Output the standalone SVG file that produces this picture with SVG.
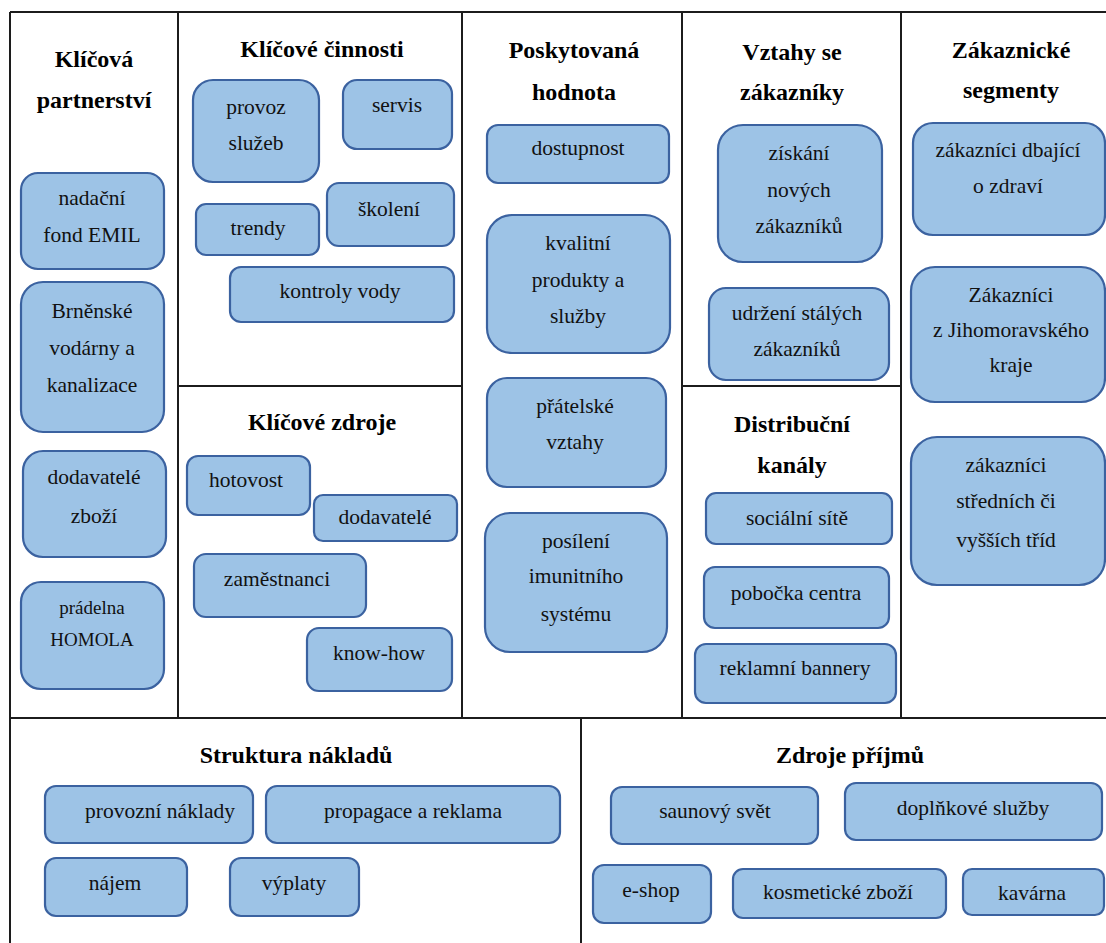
<svg xmlns="http://www.w3.org/2000/svg" width="1106" height="943" viewBox="0 0 1106 943">
<style>
.frame{stroke:#1c1c1c;stroke-width:2;fill:none}
.box{fill:#9dc3e6;stroke:#3b62a0;stroke-width:2.2}
text{font-family:'Liberation Serif','Tinos','Times New Roman','DejaVu Serif',serif}
.h{font-weight:bold;font-size:24px;fill:#000;text-anchor:middle}
.t{font-size:21.5px;fill:#111;text-anchor:middle}
.s{font-size:19px}
</style>
<rect width="1106" height="943" fill="#fff"/>
<g id="frame" class="frame">
<line x1="10" y1="12" x2="1106" y2="12"/>
<line x1="10" y1="12" x2="10" y2="943"/>
<line x1="178" y1="12" x2="178" y2="718"/>
<line x1="462" y1="12" x2="462" y2="718"/>
<line x1="682" y1="12" x2="682" y2="718"/>
<line x1="901" y1="12" x2="901" y2="718"/>
<line x1="178" y1="386" x2="462" y2="386"/>
<line x1="682" y1="386" x2="901" y2="386"/>
<line x1="10" y1="718" x2="1106" y2="718"/>
<line x1="581" y1="718" x2="581" y2="943"/>
</g>
<g id="connectors"/>
<g id="headings" font-family="Liberation Serif, DejaVu Serif, serif">
<g id="h-partnerstvi"><text class="h" x="94" y="67">Klíčová</text><text class="h" x="94" y="108">partnerství</text></g>
<g id="h-cinnosti"><text class="h" x="322" y="57">Klíčové činnosti</text></g>
<g id="h-hodnota"><text class="h" x="574" y="58">Poskytovaná</text><text class="h" x="574" y="100">hodnota</text></g>
<g id="h-vztahy"><text class="h" x="792" y="60">Vztahy se</text><text class="h" x="792" y="100">zákazníky</text></g>
<g id="h-segmenty"><text class="h" x="1011" y="58">Zákaznické</text><text class="h" x="1011" y="98">segmenty</text></g>
<g id="h-zdroje"><text class="h" x="322" y="430">Klíčové zdroje</text></g>
<g id="h-kanaly"><text class="h" x="792" y="432">Distribuční</text><text class="h" x="792" y="473">kanály</text></g>
<g id="h-naklady"><text class="h" x="296" y="763">Struktura nákladů</text></g>
<g id="h-prijmy"><text class="h" x="850" y="763">Zdroje příjmů</text></g>
</g>
<g id="nodes" font-family="Liberation Serif, DejaVu Serif, serif">
<g id="n-emil"><rect class="box" x="21" y="173" width="143" height="96" rx="17"/><text class="t" x="92" y="205">nadační</text><text class="t" x="92" y="242">fond EMIL</text></g>
<g id="n-bvk"><rect class="box" x="21" y="282" width="143" height="150" rx="22"/><text class="t" x="92" y="318">Brněnské</text><text class="t" x="92" y="355">vodárny a</text><text class="t" x="92" y="392">kanalizace</text></g>
<g id="n-dodavatele-zbozi"><rect class="box" x="23" y="451" width="143" height="106" rx="20"/><text class="t" x="94" y="484">dodavatelé</text><text class="t" x="94" y="523">zboží</text></g>
<g id="n-pradelna"><rect class="box" x="21" y="582" width="143" height="107" rx="20"/><text class="t s" x="92" y="614">prádelna</text><text class="t s" x="92" y="646">HOMOLA</text></g>
<g id="n-provoz"><rect class="box" x="193" y="80" width="126" height="102" rx="20"/><text class="t" x="256" y="114">provoz</text><text class="t" x="256" y="150">služeb</text></g>
<g id="n-servis"><rect class="box" x="343" y="80" width="109" height="69" rx="14"/><text class="t" x="397" y="112">servis</text></g>
<g id="n-trendy"><rect class="box" x="196" y="204" width="123" height="51" rx="10"/><text class="t" x="258" y="235">trendy</text></g>
<g id="n-skoleni"><rect class="box" x="327" y="183" width="127" height="63" rx="12"/><text class="t" x="389" y="216">školení</text></g>
<g id="n-kontroly"><rect class="box" x="230" y="267" width="224" height="55" rx="11"/><text class="t" x="340" y="298">kontroly vody</text></g>
<g id="n-dostupnost"><rect class="box" x="487" y="125" width="182" height="58" rx="11"/><text class="t" x="578" y="155">dostupnost</text></g>
<g id="n-kvalitni"><rect class="box" x="487" y="215" width="183" height="138" rx="25"/><text class="t" x="578" y="250">kvalitní</text><text class="t" x="578" y="287">produkty a</text><text class="t" x="578" y="323">služby</text></g>
<g id="n-pratelske"><rect class="box" x="487" y="378" width="179" height="109" rx="20"/><text class="t" x="575" y="413">přátelské</text><text class="t" x="575" y="449">vztahy</text></g>
<g id="n-posileni"><rect class="box" x="485" y="513" width="182" height="139" rx="25"/><text class="t" x="576" y="548">posílení</text><text class="t" x="576" y="583">imunitního</text><text class="t" x="576" y="621">systému</text></g>
<g id="n-ziskani"><rect class="box" x="718" y="125" width="164" height="137" rx="25"/><text class="t" x="799" y="160">získání</text><text class="t" x="799" y="197">nových</text><text class="t" x="799" y="233">zákazníků</text></g>
<g id="n-udrzeni"><rect class="box" x="709" y="288" width="180" height="92" rx="17"/><text class="t" x="797" y="320">udržení stálých</text><text class="t" x="797" y="356">zákazníků</text></g>
<g id="n-zdravi"><rect class="box" x="913" y="123" width="192" height="112" rx="20"/><text class="t" x="1008" y="157">zákazníci dbající</text><text class="t" x="1008" y="193">o zdraví</text></g>
<g id="n-jmk"><rect class="box" x="911" y="267" width="194" height="135" rx="24"/><text class="t" x="1011" y="302">Zákazníci</text><text class="t" x="1011" y="337">z Jihomoravského</text><text class="t" x="1011" y="372">kraje</text></g>
<g id="n-tridy"><rect class="box" x="911" y="437" width="194" height="148" rx="26"/><text class="t" x="1006" y="472">zákazníci</text><text class="t" x="1006" y="508">středních či</text><text class="t" x="1006" y="547">vyšších tříd</text></g>
<g id="n-hotovost"><rect class="box" x="187" y="456" width="123" height="59" rx="11"/><text class="t" x="246" y="487">hotovost</text></g>
<g id="n-dodavatele"><rect class="box" x="314" y="495" width="143" height="46" rx="9"/><text class="t" x="385" y="524">dodavatelé</text></g>
<g id="n-zamestnanci"><rect class="box" x="194" y="554" width="172" height="63" rx="12"/><text class="t" x="277" y="586">zaměstnanci</text></g>
<g id="n-knowhow"><rect class="box" x="307" y="628" width="145" height="63" rx="12"/><text class="t" x="379" y="660">know-how</text></g>
<g id="n-socialni"><rect class="box" x="706" y="493" width="186" height="51" rx="10"/><text class="t" x="797" y="525">sociální sítě</text></g>
<g id="n-pobocka"><rect class="box" x="704" y="567" width="185" height="61" rx="11"/><text class="t" x="796" y="600">pobočka centra</text></g>
<g id="n-bannery"><rect class="box" x="695" y="644" width="201" height="59" rx="11"/><text class="t" x="795" y="675">reklamní bannery</text></g>
<g id="n-provozni"><rect class="box" x="45" y="786" width="208" height="57" rx="11"/><text class="t" x="160" y="818">provozní náklady</text></g>
<g id="n-propagace"><rect class="box" x="266" y="786" width="294" height="57" rx="11"/><text class="t" x="413" y="818">propagace a reklama</text></g>
<g id="n-najem"><rect class="box" x="45" y="858" width="142" height="58" rx="11"/><text class="t" x="115" y="890">nájem</text></g>
<g id="n-vyplaty"><rect class="box" x="230" y="858" width="129" height="58" rx="11"/><text class="t" x="294" y="890">výplaty</text></g>
<g id="n-sauna"><rect class="box" x="611" y="787" width="207" height="57" rx="11"/><text class="t" x="715" y="818">saunový svět</text></g>
<g id="n-doplnkove"><rect class="box" x="845" y="783" width="257" height="57" rx="11"/><text class="t" x="973" y="815">doplňkové služby</text></g>
<g id="n-eshop"><rect class="box" x="593" y="865" width="118" height="58" rx="11"/><text class="t" x="651" y="897">e-shop</text></g>
<g id="n-kosmetika"><rect class="box" x="733" y="869" width="213" height="49" rx="10"/><text class="t" x="838" y="899">kosmetické zboží</text></g>
<g id="n-kavarna"><rect class="box" x="963" y="869" width="141" height="46" rx="9"/><text class="t" x="1032" y="900">kavárna</text></g>
</g>
</svg>
